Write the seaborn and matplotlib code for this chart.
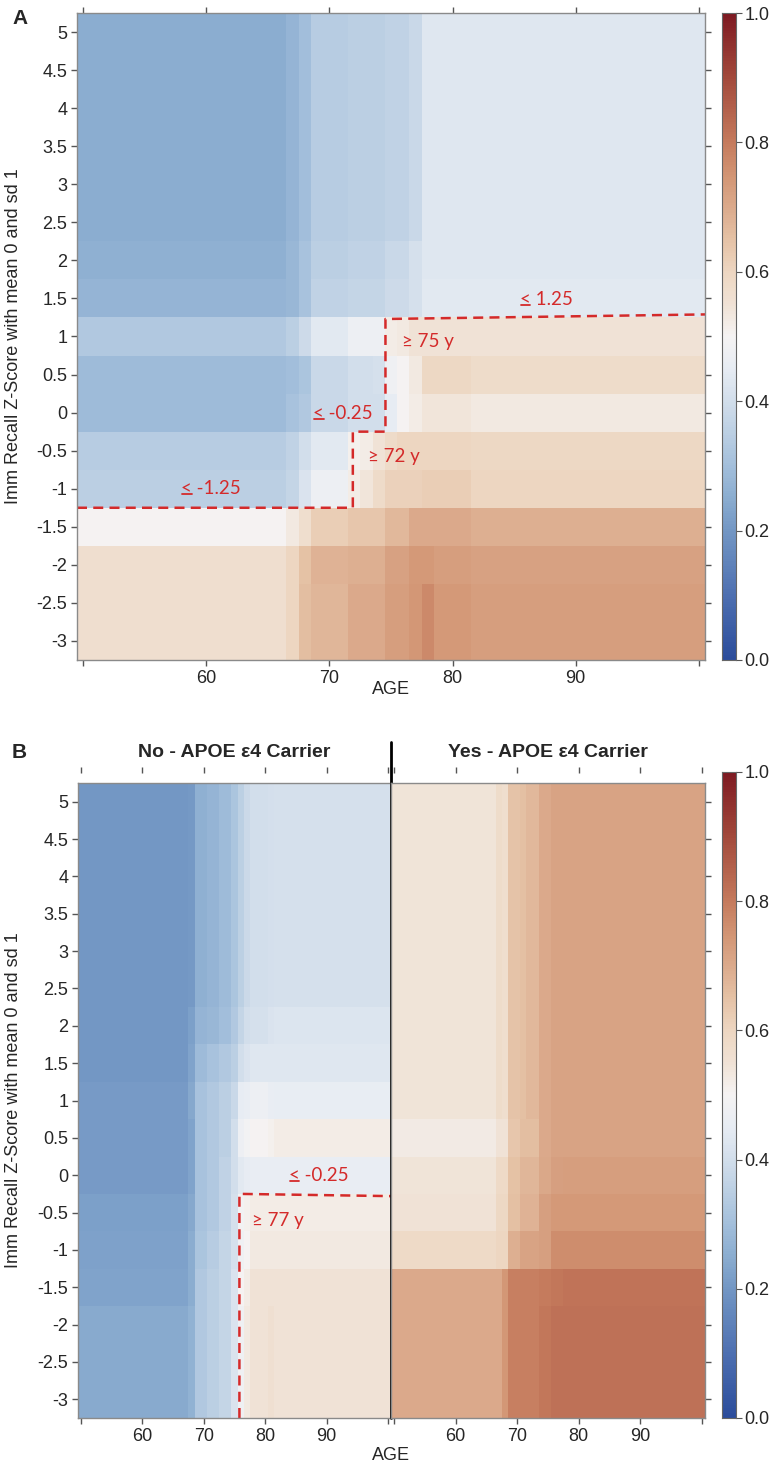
import matplotlib
matplotlib.use("Agg")
import matplotlib.pyplot as plt
from matplotlib.colors import LinearSegmentedColormap
from matplotlib.lines import Line2D
from matplotlib.transforms import IdentityTransform
import seaborn as sns
import pandas as pd
import numpy as np

sns.set_style("white")
plt.rcParams['font.family'] = ['Liberation Sans', 'DejaVu Sans']

""" 0. Data (read off the figure) """
ages = list(range(50, 101))
z_rows = [5, 4.5, 4, 3.5, 3, 2.5, 2, 1.5, 1, 0.5, 0, -0.5, -1, -1.5, -2, -2.5, -3]
z_labels = ["5", "4.5", "4", "3.5", "3", "2.5", "2", "1.5", "1", "0.5", "0",
            "-0.5", "-1", "-1.5", "-2", "-2.5", "-3"]
age_ticks = [50, 60, 70, 80, 90, 100]
age_labels = ["", "60", "70", "80", "90", ""]
cbar_ticks = [0.0, 0.2, 0.4, 0.6, 0.8, 1.0]

######### panel A: all subjects #########
# column segments start at these ages, row bands cover this many z rows (top -> bottom)
a_seg_start = [50, 67, 68, 69, 72, 73, 74, 75, 76, 77, 78, 79, 82]
a_band_rows = [6, 1, 1, 1, 1, 1, 1, 1, 1, 1, 2]
a_values = [
    [0.25, 0.27, 0.30, 0.34, 0.35, 0.35, 0.35, 0.36, 0.36, 0.38, 0.43, 0.43, 0.43],
    [0.26, 0.28, 0.31, 0.35, 0.36, 0.36, 0.36, 0.38, 0.38, 0.41, 0.43, 0.43, 0.43],
    [0.27, 0.28, 0.31, 0.36, 0.37, 0.37, 0.37, 0.39, 0.39, 0.41, 0.44, 0.44, 0.44],
    [0.33, 0.35, 0.39, 0.44, 0.47, 0.47, 0.47, 0.52, 0.53, 0.55, 0.55, 0.55, 0.55],
    [0.29, 0.30, 0.32, 0.38, 0.40, 0.40, 0.41, 0.48, 0.50, 0.53, 0.59, 0.59, 0.575],
    [0.29, 0.31, 0.33, 0.38, 0.40, 0.40, 0.40, 0.45, 0.50, 0.52, 0.54, 0.54, 0.53],
    [0.34, 0.36, 0.40, 0.44, 0.51, 0.52, 0.55, 0.58, 0.60, 0.60, 0.60, 0.60, 0.59],
    [0.35, 0.37, 0.42, 0.47, 0.52, 0.54, 0.58, 0.61, 0.61, 0.61, 0.62, 0.62, 0.60],
    [0.50, 0.53, 0.57, 0.62, 0.64, 0.64, 0.64, 0.67, 0.67, 0.70, 0.70, 0.70, 0.69],
    [0.565, 0.60, 0.65, 0.68, 0.69, 0.69, 0.69, 0.72, 0.72, 0.74, 0.74, 0.73, 0.72],
    [0.565, 0.60, 0.66, 0.675, 0.70, 0.70, 0.70, 0.73, 0.73, 0.745, 0.77, 0.74, 0.73],
]

######### panel B: APOE e4 non-carriers #########
bno_seg_start = [50, 68, 69, 71, 73, 75, 76, 77, 78, 81, 82]
bno_band_rows = [6, 1, 1, 1, 1, 1, 1, 1, 1, 3]
bno_values = [
    [0.20, 0.205, 0.26, 0.27, 0.29, 0.32, 0.355, 0.385, 0.40, 0.405, 0.41],
    [0.20, 0.22, 0.27, 0.28, 0.30, 0.33, 0.37, 0.40, 0.41, 0.42, 0.425],
    [0.20, 0.23, 0.29, 0.31, 0.33, 0.35, 0.40, 0.42, 0.43, 0.43, 0.43],
    [0.21, 0.24, 0.31, 0.33, 0.35, 0.38, 0.45, 0.46, 0.47, 0.46, 0.455],
    [0.21, 0.23, 0.31, 0.33, 0.35, 0.40, 0.47, 0.49, 0.50, 0.51, 0.52],
    [0.21, 0.23, 0.31, 0.33, 0.36, 0.40, 0.44, 0.45, 0.46, 0.46, 0.46],
    [0.22, 0.24, 0.31, 0.33, 0.36, 0.41, 0.49, 0.51, 0.52, 0.52, 0.52],
    [0.225, 0.25, 0.32, 0.34, 0.37, 0.41, 0.48, 0.50, 0.53, 0.53, 0.53],
    [0.23, 0.25, 0.33, 0.35, 0.37, 0.42, 0.50, 0.52, 0.55, 0.55, 0.55],
    [0.245, 0.265, 0.33, 0.35, 0.37, 0.42, 0.48, 0.53, 0.55, 0.56, 0.55],
]

######### panel B: APOE e4 carriers #########
byes_seg_start = [50, 67, 68, 69, 71, 72, 74, 76, 78]
byes_band_rows = [9, 1, 1, 1, 1, 1, 3]
byes_values = [
    [0.545, 0.575, 0.57, 0.645, 0.655, 0.67, 0.70, 0.715, 0.715],
    [0.525, 0.55, 0.55, 0.64, 0.66, 0.66, 0.70, 0.715, 0.715],
    [0.545, 0.585, 0.585, 0.65, 0.675, 0.675, 0.705, 0.725, 0.73],
    [0.55, 0.59, 0.59, 0.655, 0.68, 0.68, 0.725, 0.74, 0.74],
    [0.585, 0.60, 0.60, 0.69, 0.715, 0.715, 0.725, 0.765, 0.765],
    [0.70, 0.70, 0.745, 0.79, 0.79, 0.79, 0.80, 0.805, 0.815],
    [0.70, 0.70, 0.745, 0.79, 0.79, 0.79, 0.805, 0.82, 0.82],
]


def to_grid(values, band_rows, seg_start):
    widths = np.diff(seg_start + [101])
    grid = np.repeat(np.repeat(np.array(values), band_rows, axis=0), widths, axis=1)
    return pd.DataFrame(grid, index=z_rows, columns=ages)


df_a = to_grid(a_values, a_band_rows, a_seg_start)
df_no = to_grid(bno_values, bno_band_rows, bno_seg_start)
df_yes = to_grid(byes_values, byes_band_rows, byes_seg_start)

cmap = LinearSegmentedColormap.from_list("sas_rdbu", [
    (0.0, "#2B4C9B"), (0.1, "#4E70B1"), (0.2, "#7397C4"), (0.25, "#8BADD0"),
    (0.3, "#A3BFDB"), (0.35, "#BBCFE3"), (0.4, "#D2DEEB"), (0.45, "#E7ECF3"),
    (0.5, "#F5F3F3"), (0.55, "#F0E2D5"), (0.6, "#EDD6C1"), (0.65, "#E5C2A6"),
    (0.7, "#DBAA8C"), (0.75, "#D29574"), (0.8, "#C57B5D"), (0.9, "#A34A3C"),
    (1.0, "#7E1A22")])

RED = "#D42A2A"
GREY = "#8a8a8a"
TICK_FS = 13
RED_FONT = dict(color=RED, fontsize=13.5, family=["Lato", "DejaVu Sans"])


def xi(age):   # age -> heatmap column coordinate
    return age - 49.5


def yi(z):     # z-score -> heatmap row coordinate
    return (5 - z) * 2 + 0.5


def style_axis(ax, left=True, right=True, top=True):
    for s in ax.spines.values():
        s.set_visible(True)
        s.set_color(GREY)
        s.set_linewidth(1)
    ax.set_xticks([xi(a) for a in age_ticks])
    ax.set_xticklabels(age_labels, rotation=0)
    ax.set_yticks([yi(z) for z in z_rows])
    ax.set_yticklabels(z_labels if left else [""] * len(z_rows), rotation=0)
    ax.tick_params(axis='both', direction='out', length=4, width=1, color="#555555",
                   labelsize=TICK_FS, left=left, right=right, top=top, bottom=True,
                   labelleft=left, labelright=False, labeltop=False, pad=3)
    ax.set_xlabel("")
    ax.set_ylabel("")


def style_cbar(cax):
    cax.set_yticks(cbar_ticks)
    cax.set_yticklabels(["%.1f" % t for t in cbar_ticks])
    cax.tick_params(labelsize=TICK_FS, length=4, color="#555555", pad=2)
    for s in cax.spines.values():
        s.set_visible(True)
        s.set_color("#666666")


underlined = []   # texts whose leading "<" gets underlined (drawn as "< value")


def red_text(ax, age, z, s, underline=False):
    t = ax.text(xi(age), yi(z), s, ha="center", va="center", **RED_FONT)
    if underline:
        underlined.append((ax, t))


def red_path(ax, pts):
    ax.plot([xi(p[0]) for p in pts], [yi(p[1]) for p in pts], color=RED, lw=1.8,
            ls=(0, (4, 2.5)), clip_on=False, solid_joinstyle="miter")


W, H = 770, 1467
fig = plt.figure(figsize=(W / 100, H / 100), dpi=100)

""" 1. Panel A """
ax_a = fig.add_axes([77 / W, 1 - 660 / H, 628 / W, 647 / H])
cax_a = fig.add_axes([722 / W, 1 - 660 / H, 14 / W, 647 / H])
sns.heatmap(df_a, ax=ax_a, cmap=cmap, vmin=0, vmax=1, cbar_ax=cax_a,
            xticklabels=False, yticklabels=False)
style_axis(ax_a)
style_cbar(cax_a)
ax_a.set_ylabel("Imm Recall Z-Score with mean 0 and sd 1", fontsize=13)
ax_a.yaxis.set_label_coords(-0.088, 0.5)
fig.text(391 / W, 1 - 690 / H, "AGE", ha="center", va="center", fontsize=13)

red_path(ax_a, [(49.5, -1.25), (71.9, -1.25), (71.9, -0.25), (74.55, -0.25),
                (74.55, 1.23), (100.5, 1.29)])
red_text(ax_a, 87.6, 1.49, "< 1.25", underline=True)
red_text(ax_a, 78.0, 0.93, "\u2265 75 y")
red_text(ax_a, 71.1, -0.01, "< -0.25", underline=True)
red_text(ax_a, 75.2, -0.57, "\u2265 72 y")
red_text(ax_a, 60.4, -1.0, "< -1.25", underline=True)

""" 2. Panel B """
b_bottom = 1 - 1418 / H
b_height = 635 / H
ax_no = fig.add_axes([78 / W, b_bottom, 313 / W, b_height])
ax_yes = fig.add_axes([391 / W, b_bottom, 314 / W, b_height])
cax_b = fig.add_axes([722 / W, b_bottom, 14 / W, 646 / H])
sns.heatmap(df_no, ax=ax_no, cmap=cmap, vmin=0, vmax=1, cbar=False,
            xticklabels=False, yticklabels=False)
sns.heatmap(df_yes, ax=ax_yes, cmap=cmap, vmin=0, vmax=1, cbar_ax=cax_b,
            xticklabels=False, yticklabels=False)
style_axis(ax_no, left=True, right=False, top=False)
style_axis(ax_yes, left=False, right=True, top=False)
style_cbar(cax_b)
ax_no.set_ylabel("Imm Recall Z-Score with mean 0 and sd 1", fontsize=13)
ax_no.yaxis.set_label_coords(-0.178, 0.5)

for ax in (ax_no, ax_yes):
    sec = ax.secondary_xaxis(1.016)
    sec.set_xticks([xi(a) for a in age_ticks])
    sec.set_xticklabels([""] * len(age_ticks))
    sec.tick_params(direction='out', length=4, width=1, color="#555555")
    sec.spines['top'].set_visible(False)

fig.text(234 / W, 1 - 752 / H, "No - APOE \u03b54 Carrier", ha="center", va="center",
         fontsize=14, fontweight="bold")
fig.text(548 / W, 1 - 752 / H, "Yes - APOE \u03b54 Carrier", ha="center", va="center",
         fontsize=14, fontweight="bold")
ax_no.axvline(xi(100.5), ymin=0, ymax=1.064, color="black", lw=2, clip_on=False, zorder=5)
fig.text(391 / W, 1 - 1456 / H, "AGE", ha="center", va="center", fontsize=13)

red_path(ax_no, [(75.8, -3.25), (75.8, -0.25), (100.5, -0.28)])
red_text(ax_no, 88.7, 0.0, "< -0.25", underline=True)
red_text(ax_no, 82.0, -0.61, "\u2265 77 y")

fig.text(12 / W, 1 - 18 / H, "A", ha="left", va="center", fontsize=15, fontweight="bold")
fig.text(12 / W, 1 - 752 / H, "B", ha="left", va="center", fontsize=15, fontweight="bold")

# underline the leading "<" of the threshold labels (the source writes <= as underlined <)
fig.canvas.draw()
renderer = fig.canvas.get_renderer()
for ax, t in underlined:
    bb = t.get_window_extent(renderer)
    probe = ax.text(0, 0, "<", **RED_FONT)
    w = probe.get_window_extent(renderer).width
    probe.remove()
    y = bb.y0 + 0.18 * bb.height
    fig.add_artist(Line2D([bb.x0 + 1, bb.x0 + w - 0.5], [y, y], color=RED, lw=1.3,
                          transform=IdentityTransform()))

plt.savefig("out.png", dpi=100)
